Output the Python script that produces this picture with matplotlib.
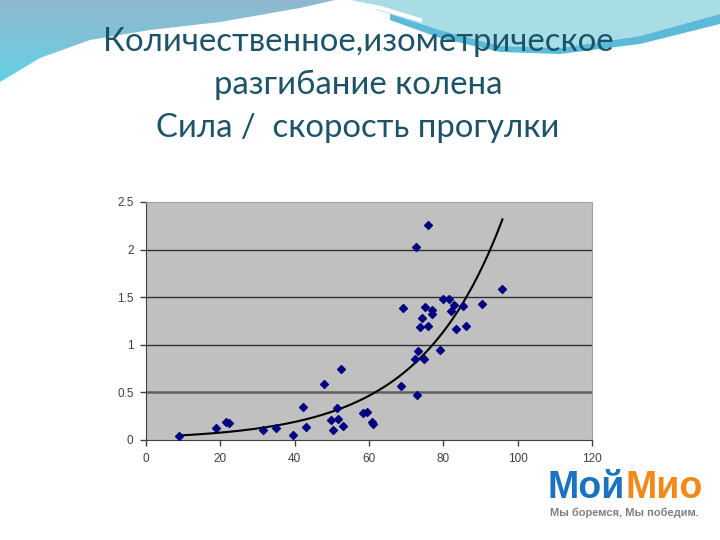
import numpy as np
import matplotlib
matplotlib.use("Agg")
import matplotlib.pyplot as plt
from matplotlib.patches import Polygon

# title lines
title_lines = ["Количественное,изометрическое", "разгибание колена", "Сила /  скорость прогулки"]

# walking speed (x) vs knee extension strength (y)
speed = [9.0, 18.8, 21.5, 22.4, 31.6, 35.0, 39.5, 42.3, 43.0, 47.9, 49.7, 50.4,
         51.3, 51.7, 52.4, 52.9, 58.5, 59.4, 60.7, 61.0, 68.5, 69.1, 72.7, 72.8,
         72.5, 73.3, 74.9, 73.7, 74.3, 75.1, 75.9, 75.9, 76.9, 76.9, 79.2, 80.0,
         81.4, 82.1, 82.9, 83.3, 85.2, 86.0, 90.4, 95.9]
strength = [0.04, 0.13, 0.19, 0.18, 0.11, 0.13, 0.05, 0.35, 0.14, 0.59, 0.21, 0.11,
            0.34, 0.22, 0.75, 0.15, 0.28, 0.29, 0.19, 0.17, 0.57, 1.39, 2.03, 0.47,
            0.85, 0.93, 0.85, 1.19, 1.28, 1.40, 1.20, 2.26, 1.37, 1.32, 0.95, 1.48,
            1.48, 1.36, 1.42, 1.17, 1.41, 1.20, 1.43, 1.59]

x_ticks = [0, 20, 40, 60, 80, 100, 120]
y_ticks = [0, 0.5, 1, 1.5, 2, 2.5]
y_tick_labels = ["0", "0.5", "1", "1.5", "2", "2.5"]

fig = plt.figure(figsize=(7.2, 5.4), dpi=100)

# slide background (pixel coordinates)
bg = fig.add_axes([0, 0, 1, 1])
bg.set_xlim(0, 720)
bg.set_ylim(540, 0)
bg.axis("off")

left_wave = Polygon([(0, 0), (335, 0), (300, 8), (220, 22), (150, 30), (90, 40),
                     (40, 58), (0, 82)], closed=True, facecolor="none", edgecolor="none")
bg.add_patch(left_wave)
grad = np.linspace(0, 1, 100).reshape(-1, 1)
img = bg.imshow(grad, cmap=matplotlib.colors.LinearSegmentedColormap.from_list(
    "g", ["#8fb8d0", "#7cc4da", "#5fd3e4"]), extent=(0, 340, 85, 0), aspect="auto")
img.set_clip_path(left_wave)

right_wave = Polygon([(345, 0), (720, 0), (720, 14), (640, 36), (560, 48), (500, 46),
                      (440, 30), (390, 14)], closed=True, facecolor="#a9dde6", edgecolor="none")
bg.add_patch(right_wave)
stripe = Polygon([(390, 14), (440, 30), (500, 46), (560, 48), (640, 36), (720, 14),
                  (720, 24), (640, 44), (560, 54), (500, 52), (440, 38), (390, 20)],
                 closed=True, facecolor="#5bbad8", edgecolor="none")
bg.add_patch(stripe)
bg.plot([340, 380, 420], [0, 8, 20], color="white", lw=3)

for i, line in enumerate(title_lines):
    bg.text(358, 42 + i * 43, line, ha="center", va="center", fontsize=23.7,
            family="Lato", color="#1b5468")

# logo
bg.text(625, 488, "Мой", ha="right", va="center", fontsize=27, fontweight="bold",
        family="Liberation Sans", color="#1b72c2")
bg.text(625, 488, "Мио", ha="left", va="center", fontsize=27, fontweight="bold",
        family="Liberation Sans", color="#f28a1a")
bg.text(624, 513, "Мы боремся, Мы победим.", ha="center", va="center", fontsize=8,
        fontweight="bold", family="Liberation Sans", color="#808080")

# chart
ax = fig.add_axes([146 / 720, 1 - 440 / 540, 446 / 720, 238 / 540])
ax.set_facecolor("#c0c0c0")
ax.set_xlim(0, 120)
ax.set_ylim(0, 2.5)
for yv in y_ticks[1:-1]:
    if yv == 0.5:
        ax.axhline(yv, color="#606060", lw=1.8, zorder=1)
    else:
        ax.axhline(yv, color="#303030", lw=1.0, zorder=1)

# exponential trendline fitted to the data
b, log_a = np.polyfit(speed, np.log(strength), 1)
xs = np.linspace(min(speed), max(speed), 200)
ax.plot(xs, np.exp(log_a) * np.exp(b * xs), color="black", lw=1.5, zorder=2)

ax.scatter(speed, strength, marker="D", s=16, color="#000080", zorder=3)

ax.set_xticks(x_ticks)
ax.set_yticks(y_ticks)
ax.set_yticklabels(y_tick_labels)
ax.tick_params(direction="out", length=4, width=1, color="#404040", labelsize=8.5,
               labelcolor="#404040", pad=5)
for lab in ax.get_xticklabels() + ax.get_yticklabels():
    lab.set_family("Liberation Sans")
ax.spines["left"].set_color("#404040")
ax.spines["bottom"].set_color("#404040")
ax.spines["top"].set_color("#a0a0a0")
ax.spines["right"].set_color("#a0a0a0")

fig.savefig("out.png", dpi=100)
